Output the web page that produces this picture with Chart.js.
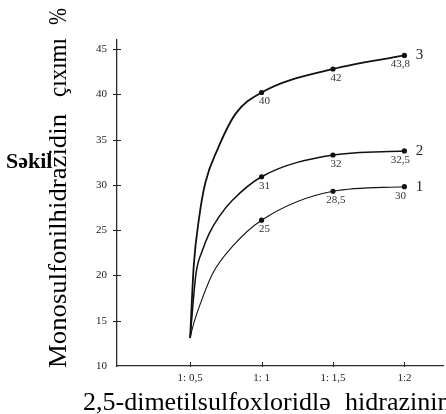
<!DOCTYPE html>
<html><head><meta charset="utf-8">
<script src="https://cdn.jsdelivr.net/npm/chart.js@4/dist/chart.umd.min.js"></script>
<style>html,body{margin:0;padding:0;background:#fff}#wrap{width:446px;height:414px;position:relative}</style>
</head><body><div id="wrap"><canvas id="c"></canvas></div>
<script>
const xTickValues = [0.5, 1, 1.5, 2];
const xTickLabels = ['1: 0,5', '1: 1', '1: 1,5', '1:2'];
const yTickValues = [10, 15, 20, 25, 30, 35, 40, 45];
const curveNames = ['3', '2', '1'];
const startRatio = 0.5;
const startYield = 13.1;
const markerRatios = [1, 1.5, 2];
const curve3Yield = [40.2, 42.8, 44.3];
const curve2Yield = [30.9, 33.3, 33.75];
const curve1Yield = [26.1, 29.3, 29.8];
const curve3Labels = ['40', '42', '43,8'];
const curve2Labels = ['31', '32', '32,5'];
const curve1Labels = ['25', '28,5', '30'];
// points traced along the drawn curves between 1:0,5 and 1:1
const curve3RiseRatios = [0.525, 0.564, 0.606, 0.691, 0.82];
const curve3RiseYield = [21, 26.5, 30.2, 33.9, 37.9];
const curve2RiseRatios = [0.541, 0.587, 0.634, 0.703, 0.796];
const curve2RiseYield = [20.2, 22.8, 24.65, 26.5, 28.3];
const curve1RiseRatios = [0.518, 0.564, 0.657, 0.796];
const curve1RiseYield = [14.3, 16.55, 20.2, 23.2];
const yTitleWords = ['Monosulfonilhidrazidin', 'çıxımı', '%'];
const xTitleWords = ['2,5-dimetilsulfoxloridlə', 'hidrazinin'];
const figureWord = 'Səkil';

function buildPoints(riseX, riseY, vals) {
  const pts = [{x: startRatio, y: startYield}];
  riseX.forEach((x, i) => pts.push({x: x, y: riseY[i]}));
  markerRatios.forEach((x, i) => pts.push({x: x, y: vals[i]}));
  return pts;
}
const SERIF = '"Liberation Serif", "Times New Roman", serif';
const series = [
  {pts: buildPoints(curve3RiseRatios, curve3RiseYield, curve3Yield), vals: curve3Yield, labels: curve3Labels, w: 1.8},
  {pts: buildPoints(curve2RiseRatios, curve2RiseYield, curve2Yield), vals: curve2Yield, labels: curve2Labels, w: 1.5},
  {pts: buildPoints(curve1RiseRatios, curve1RiseYield, curve1Yield), vals: curve1Yield, labels: curve1Labels, w: 1.1}
];

const overlay = {
  id: 'overlay',
  afterDraw(chart) {
    const ctx = chart.ctx, xs = chart.scales.x, ys = chart.scales.y, ca = chart.chartArea;
    ctx.save();
    ctx.strokeStyle = '#2a2a2a'; ctx.lineWidth = 1.1;
    yTickValues.forEach(v => {
      if (v === yTickValues[0]) return;
      const py = Math.round(ys.getPixelForValue(v)) + 0.5;
      ctx.beginPath(); ctx.moveTo(ca.left - 4, py); ctx.lineTo(ca.left + 4, py); ctx.stroke();
    });
    xTickValues.forEach(v => {
      const px = Math.round(xs.getPixelForValue(v)) + 0.5;
      ctx.beginPath(); ctx.moveTo(px, ca.bottom - 4); ctx.lineTo(px, ca.bottom + 1); ctx.stroke();
    });
    // point value labels and curve numbers
    ctx.fillStyle = '#333';
    ctx.textBaseline = 'middle'; ctx.textAlign = 'center';
    series.forEach((s, si) => {
      markerRatios.forEach((r, i) => {
        const px = xs.getPixelForValue(r), py = ys.getPixelForValue(s.vals[i]);
        const dx = i === markerRatios.length - 1 ? -4 : 3;
        ctx.font = '11px ' + SERIF;
        ctx.fillText(s.labels[i], px + dx, py + 9);
      });
      const lx = xs.getPixelForValue(markerRatios[markerRatios.length - 1]);
      const ly = ys.getPixelForValue(s.vals[s.vals.length - 1]);
      ctx.font = '15px ' + SERIF; ctx.fillStyle = '#222';
      ctx.fillText(curveNames[si], lx + 15, ly);
      ctx.fillStyle = '#333';
    });
    // axis titles
    ctx.fillStyle = '#000';
    ctx.textAlign = 'left'; ctx.textBaseline = 'alphabetic';
    ctx.font = '26px ' + SERIF;
    const yStarts = [368, 97, 25];
    const yEnds = [114, 38, 8];
    yTitleWords.forEach((w, i) => {
      const target = yStarts[i] - yEnds[i];
      const mw = ctx.measureText(w).width;
      ctx.save();
      ctx.translate(66, yStarts[i]);
      ctx.rotate(-Math.PI / 2);
      ctx.scale(target / mw, 1);
      ctx.fillText(w, 0, 0);
      ctx.restore();
    });
    const xStarts = [83, 345];
    xTitleWords.forEach((w, i) => ctx.fillText(w, xStarts[i], 410));
    ctx.font = 'bold 22px ' + SERIF;
    ctx.fillText(figureWord, 6, 168);
    ctx.restore();
  }
};

new Chart(document.getElementById('c'), {
  type: 'scatter',
  data: {
    datasets: series.map(s => ({
      data: s.pts,
      showLine: true,
      borderColor: '#111',
      backgroundColor: '#111',
      borderWidth: s.w,
      cubicInterpolationMode: 'monotone',
      pointRadius: c => (c.raw && markerRatios.includes(c.raw.x)) ? 2.6 : 0,
      pointBorderWidth: 0,
      pointHoverRadius: 0
    }))
  },
  options: {
    responsive: true, maintainAspectRatio: false, animation: false,
    layout: {padding: {top: 40, left: 0, right: 0, bottom: 0}},
    plugins: {legend: {display: false}, tooltip: {enabled: false}},
    scales: {
      x: {
        type: 'linear', min: -0.012, max: 2.273,
        afterBuildTicks: s => { s.ticks = xTickValues.map(v => ({value: v})); },
        afterFit: s => { s.height = 48; },
        grid: {display: false, drawTicks: false},
        border: {display: true, color: '#2a2a2a', width: 1.3},
        ticks: {padding: 6, color: '#222', font: {family: SERIF, size: 11}, maxRotation: 0, autoSkip: false,
          callback: v => xTickLabels[xTickValues.indexOf(v)]}
      },
      y: {
        type: 'linear', min: 10, max: 46,
        afterBuildTicks: s => { s.ticks = yTickValues.map(v => ({value: v})); },
        afterFit: s => { s.width = 117; },
        grid: {display: false, drawTicks: false},
        border: {display: true, color: '#2a2a2a', width: 1.3},
        ticks: {padding: 10, color: '#222', font: {family: SERIF, size: 11}, autoSkip: false,
          callback: v => String(v)}
      }
    }
  },
  plugins: [overlay]
});
</script></body></html>
